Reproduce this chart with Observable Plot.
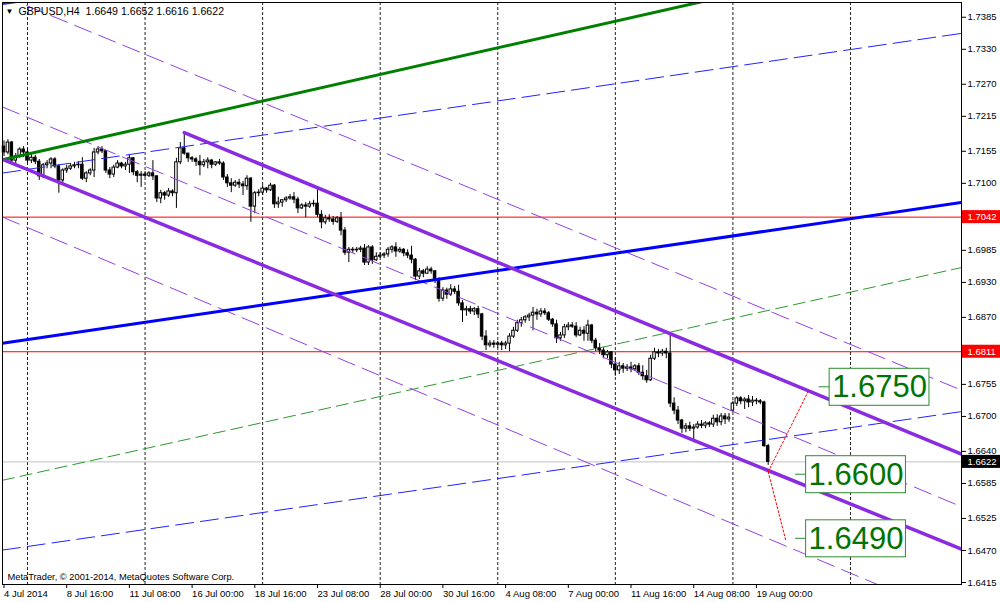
<!DOCTYPE html>
<html><head><meta charset="utf-8">
<script src="https://cdn.jsdelivr.net/npm/d3@7"></script>
<script src="https://cdn.jsdelivr.net/npm/@observablehq/plot@0.6"></script>
<style>
html,body{margin:0;padding:0;background:#fff;}
#chart{width:1000px;height:602px;overflow:hidden;}
svg{display:block}
</style></head><body><div id="chart"></div>
<script>
// ---- H4 bars, 4 Jul 2014 00:00 (index 0) .. 19 Aug 2014 12:00 (index 195) ----
const opens = [1.7163,1.7153,1.7170,1.7139,1.7146,1.7158,1.7153,1.7139,1.7144,1.7137,
1.7112,1.7131,1.7134,1.7141,1.7129,1.7105,1.7122,1.7125,1.7129,1.7131,
1.7132,1.7108,1.7117,1.7122,1.7153,1.7158,1.7155,1.7122,1.7115,1.7127,
1.7134,1.7129,1.7132,1.7143,1.7119,1.7113,1.7115,1.7113,1.7117,1.7112,
1.7074,1.7083,1.7079,1.7086,1.7083,1.7136,1.7160,1.7151,1.7143,1.7141,
1.7137,1.7131,1.7136,1.7139,1.7132,1.7136,1.7134,1.7110,1.7100,1.7096,
1.7101,1.7098,1.7095,1.7108,1.7060,1.7083,1.7084,1.7091,1.7088,1.7096,
1.7064,1.7067,1.7071,1.7074,1.7076,1.7072,1.7057,1.7062,1.7060,1.7064,
1.7065,1.7046,1.7033,1.7040,1.7038,1.7034,1.7040,1.7019,1.6981,1.6986,
1.6985,1.6986,1.6988,1.6964,1.6990,1.6968,1.6974,1.6976,1.6978,1.6986,
1.6990,1.6983,1.6986,1.6980,1.6976,1.6969,1.6940,1.6949,1.6945,1.6952,
1.6949,1.6933,1.6902,1.6916,1.6909,1.6918,1.6914,1.6894,1.6882,1.6884,
1.6880,1.6884,1.6875,1.6837,1.6822,1.6825,1.6823,1.6825,1.6822,1.6825,
1.6837,1.6847,1.6860,1.6865,1.6870,1.6873,1.6878,1.6875,1.6880,1.6877,
1.6866,1.6858,1.6834,1.6839,1.6853,1.6856,1.6854,1.6839,1.6847,1.6842,
1.6856,1.6830,1.6817,1.6813,1.6805,1.6810,1.6789,1.6779,1.6786,1.6782,
1.6784,1.6781,1.6786,1.6775,1.6769,1.6762,1.6799,1.6810,1.6808,1.6811,
1.6808,1.6722,1.6710,1.6693,1.6679,1.6683,1.6679,1.6681,1.6686,1.6684,
1.6688,1.6686,1.6696,1.6690,1.6700,1.6695,1.6710,1.6722,1.6731,1.6726,
1.6729,1.6724,1.6727,1.6726,1.6724,1.6649];
const highs = [1.7173,1.7175,1.7172,1.7151,1.7161,1.7163,1.7160,1.7151,1.7148,1.7141,
1.7134,1.7139,1.7144,1.7144,1.7132,1.7125,1.7131,1.7134,1.7136,1.7137,
1.7144,1.7120,1.7125,1.7160,1.7163,1.7163,1.7156,1.7127,1.7131,1.7139,
1.7136,1.7136,1.7148,1.7144,1.7122,1.7120,1.7120,1.7120,1.7139,1.7113,
1.7088,1.7086,1.7091,1.7089,1.7143,1.7170,1.7187,1.7151,1.7146,1.7144,
1.7148,1.7141,1.7144,1.7141,1.7137,1.7141,1.7137,1.7115,1.7108,1.7105,
1.7107,1.7103,1.7113,1.7110,1.7086,1.7089,1.7096,1.7093,1.7100,1.7098,
1.7076,1.7072,1.7077,1.7081,1.7084,1.7076,1.7065,1.7067,1.7069,1.7071,
1.7093,1.7053,1.7045,1.7046,1.7043,1.7043,1.7050,1.7024,1.6990,1.6990,
1.6990,1.6992,1.6995,1.6993,1.6993,1.6981,1.6981,1.6981,1.6990,1.6993,
1.6998,1.6990,1.6988,1.6986,1.6992,1.6971,1.6954,1.6952,1.6957,1.6956,
1.6950,1.6938,1.6921,1.6920,1.6926,1.6923,1.6925,1.6899,1.6889,1.6889,
1.6887,1.6889,1.6877,1.6847,1.6830,1.6830,1.6829,1.6829,1.6829,1.6842,
1.6853,1.6865,1.6870,1.6873,1.6877,1.6887,1.6884,1.6885,1.6885,1.6880,
1.6868,1.6865,1.6844,1.6858,1.6861,1.6861,1.6861,1.6853,1.6854,1.6865,
1.6858,1.6834,1.6825,1.6818,1.6813,1.6811,1.6801,1.6793,1.6791,1.6789,
1.6793,1.6789,1.6791,1.6787,1.6779,1.6805,1.6817,1.6815,1.6815,1.6817,
1.6844,1.6732,1.6717,1.6695,1.6688,1.6690,1.6686,1.6691,1.6693,1.6691,
1.6691,1.6702,1.6703,1.6705,1.6705,1.6705,1.6726,1.6734,1.6734,1.6732,
1.6736,1.6734,1.6731,1.6729,1.6726,1.6652];
const lows = [1.7146,1.7149,1.7134,1.7131,1.7143,1.7144,1.7134,1.7134,1.7132,1.7105,
1.7108,1.7125,1.7125,1.7125,1.7083,1.7100,1.7117,1.7122,1.7125,1.7125,
1.7105,1.7101,1.7113,1.7110,1.7149,1.7151,1.7117,1.7108,1.7110,1.7125,
1.7125,1.7122,1.7117,1.7113,1.7101,1.7093,1.7110,1.7110,1.7105,1.7067,
1.7065,1.7071,1.7076,1.7077,1.7057,1.7132,1.7148,1.7136,1.7136,1.7129,
1.7113,1.7127,1.7125,1.7125,1.7129,1.7131,1.7105,1.7093,1.7084,1.7093,
1.7091,1.7079,1.7088,1.7033,1.7048,1.7077,1.7079,1.7083,1.7086,1.7057,
1.7057,1.7059,1.7067,1.7071,1.7065,1.7048,1.7055,1.7041,1.7057,1.7059,
1.7041,1.7022,1.7029,1.7033,1.7028,1.7031,1.7010,1.6976,1.6964,1.6980,
1.6981,1.6981,1.6959,1.6959,1.6961,1.6966,1.6971,1.6971,1.6973,1.6980,
1.6973,1.6980,1.6974,1.6971,1.6962,1.6933,1.6935,1.6938,1.6944,1.6944,
1.6928,1.6896,1.6897,1.6901,1.6906,1.6909,1.6889,1.6861,1.6872,1.6875,
1.6873,1.6868,1.6830,1.6813,1.6818,1.6817,1.6817,1.6813,1.6815,1.6811,
1.6834,1.6844,1.6853,1.6860,1.6863,1.6847,1.6865,1.6870,1.6873,1.6863,
1.6853,1.6825,1.6829,1.6834,1.6847,1.6851,1.6835,1.6837,1.6829,1.6829,
1.6825,1.6811,1.6806,1.6799,1.6799,1.6782,1.6769,1.6772,1.6774,1.6777,
1.6775,1.6777,1.6770,1.6762,1.6757,1.6760,1.6796,1.6801,1.6803,1.6799,
1.6715,1.6703,1.6686,1.6671,1.6672,1.6674,1.6655,1.6678,1.6679,1.6679,
1.6681,1.6681,1.6683,1.6684,1.6686,1.6690,1.6707,1.6717,1.6720,1.6712,
1.6715,1.6717,1.6720,1.6720,1.6647,1.6616];
const closes = [1.7153,1.7170,1.7139,1.7146,1.7158,1.7153,1.7139,1.7144,1.7137,1.7112,
1.7131,1.7134,1.7141,1.7129,1.7105,1.7122,1.7125,1.7129,1.7131,1.7132,
1.7108,1.7117,1.7122,1.7153,1.7158,1.7155,1.7122,1.7115,1.7127,1.7134,
1.7129,1.7132,1.7143,1.7119,1.7113,1.7115,1.7113,1.7117,1.7112,1.7074,
1.7083,1.7079,1.7086,1.7083,1.7136,1.7160,1.7151,1.7143,1.7141,1.7137,
1.7131,1.7136,1.7139,1.7132,1.7136,1.7134,1.7110,1.7100,1.7096,1.7101,
1.7098,1.7095,1.7108,1.7060,1.7083,1.7084,1.7091,1.7088,1.7096,1.7064,
1.7067,1.7071,1.7074,1.7076,1.7072,1.7057,1.7062,1.7060,1.7064,1.7065,
1.7046,1.7033,1.7040,1.7038,1.7034,1.7040,1.7019,1.6981,1.6986,1.6985,
1.6986,1.6988,1.6964,1.6990,1.6968,1.6974,1.6976,1.6978,1.6986,1.6990,
1.6983,1.6986,1.6980,1.6976,1.6969,1.6940,1.6949,1.6945,1.6952,1.6949,
1.6933,1.6902,1.6916,1.6909,1.6918,1.6914,1.6894,1.6882,1.6884,1.6880,
1.6884,1.6875,1.6837,1.6822,1.6825,1.6823,1.6825,1.6822,1.6825,1.6837,
1.6847,1.6860,1.6865,1.6870,1.6873,1.6878,1.6875,1.6880,1.6877,1.6866,
1.6858,1.6834,1.6839,1.6853,1.6856,1.6854,1.6839,1.6847,1.6842,1.6856,
1.6830,1.6817,1.6813,1.6805,1.6810,1.6789,1.6779,1.6786,1.6782,1.6784,
1.6781,1.6786,1.6775,1.6769,1.6762,1.6799,1.6810,1.6808,1.6811,1.6808,
1.6722,1.6710,1.6693,1.6679,1.6683,1.6679,1.6681,1.6686,1.6684,1.6688,
1.6686,1.6696,1.6690,1.6700,1.6695,1.6698,1.6722,1.6731,1.6726,1.6729,
1.6724,1.6727,1.6726,1.6724,1.6649,1.6622];

// ---- axes ----
const xTickBars = [0,16,32,48,64,80,96,112,128,144,160,176,192];
const xTickLabels = ["4 Jul 2014","8 Jul 16:00","11 Jul 08:00","16 Jul 00:00","18 Jul 16:00","23 Jul 08:00","28 Jul 00:00","30 Jul 16:00","4 Aug 08:00","7 Aug 00:00","11 Aug 16:00","14 Aug 08:00","19 Aug 00:00"];
const gridBars = [6,36,66,96,126,156,186,216];
const yTicks = [1.7385,1.7330,1.7270,1.7215,1.7155,1.7100,1.6985,1.6930,1.6870,1.6755,1.6700,1.6640,1.6585,1.6525,1.6470,1.6415];

// ---- horizontal levels ----
const redLevels = [1.7042, 1.6811];
const bidPrice = 1.6622;

// ---- trend lines: [bar1, price1, bar2, price2] ----
const greenMain = [0, 1.7141, 175, 1.7407];
const greenDashed = [0, 1.6591, 244, 1.6955];
const blueMain = [0, 1.6826, 244, 1.7067];
const blueDashedUpper = [0, 1.7118, 244, 1.7357];
const blueDashedLower = [0, 1.6471, 244, 1.6708];
const blueDashedTop = [0, 1.7408, 244, 1.7647];
const purpleUpper = [46, 1.7187, 239, 1.6650];
const purpleLower = [0, 1.7140, 239, 1.6487];
const purpleDashedTop = [0, 1.7421, 244, 1.6746];
const purpleDashedMid = [0, 1.7230, 244, 1.6546];
const purpleDashedLow = [0, 1.7041, 244, 1.6352];

// ---- forecast (red dotted) ----
const forecastBars = [195, 205.3, 195, 199.5];
const forecastPrices = [1.6605, 1.6744, 1.6605, 1.6487];

// ---- price labels ----
const labelPrices = [1.6750, 1.6600, 1.6490];
const labelBars = [208, 202, 202];
const tagPrices = [1.7042, 1.6811, 1.6622];

const titleText = "GBPUSD,H4  1.6649 1.6652 1.6616 1.6622";
const copyrightText = "MetaTrader, \u00A9 2001-2014, MetaQuotes Software Corp.";

// ---------------------------------------------------------------
const X0 = -0.38, X1 = 244.33;
const candles = opens.map((o, i) => ({i, o, h: highs[i], l: lows[i], c: closes[i]}));
const bulls = candles.filter(d => d.c > d.o);
const bears = candles.filter(d => d.c <= d.o);

function ray(def, start) {
  const [b1, p1, b2, p2] = def;
  const s = (p2 - p1) / (b2 - b1);
  const xa = start ?? X0;
  return [{x: xa, y: p1 + s * (xa - b1)}, {x: X1, y: p1 + s * (X1 - b1)}];
}
const lineSpecs = [
  {def: blueDashedTop, stroke: "#2222ff", w: 2, dash: "18,7"},
  {def: blueDashedUpper, stroke: "#2222ff", w: 1, dash: "18,7"},
  {def: blueDashedLower, stroke: "#2222ff", w: 1, dash: "18,7"},
  {def: greenDashed, stroke: "#2e9a2e", w: 1, dash: "12,6"},
  {def: purpleDashedTop, stroke: "#9340e8", w: 1, dash: "18,8"},
  {def: purpleDashedMid, stroke: "#9340e8", w: 1, dash: "18,8"},
  {def: purpleDashedLow, stroke: "#9340e8", w: 1, dash: "18,8"},
  {def: greenMain, stroke: "#008000", w: 3},
  {def: blueMain, stroke: "#0000ff", w: 3},
  {def: purpleLower, stroke: "#8a2be2", w: 3.5},
  {def: purpleUpper, stroke: "#8a2be2", w: 3.5, start: purpleUpper[0]}
];
const forecast = [0, 2].map(k => [
  {x: forecastBars[k], y: forecastPrices[k]},
  {x: forecastBars[k + 1], y: forecastPrices[k + 1]}
]);

const FONT = "'Liberation Sans', Arial, 'DejaVu Sans', sans-serif";

const chart = Plot.plot({
  width: 1000, height: 602,
  marginLeft: 2, marginRight: 39, marginTop: 2, marginBottom: 18,
  style: {fontFamily: FONT, fontSize: "9.5px", background: "#fff", color: "#000"},
  x: {domain: [X0, X1]},
  y: {domain: [1.64116, 1.74103]},
  marks: [
    Plot.ruleX(gridBars, {stroke: "#222", strokeDasharray: "3,2", strokeWidth: 1, clip: true}),
    Plot.ruleY([bidPrice], {stroke: "#c0c0c0"}),
    Plot.ruleY(redLevels, {stroke: "#ff0000"}),
    Plot.ruleX(candles, {x: "i", y1: "l", y2: "h", stroke: "#000", strokeWidth: 1}),
    Plot.rect(bears, {x1: d => d.i - 0.32, x2: d => d.i + 0.32, y1: "o", y2: "c", fill: "#000", stroke: "#000", strokeWidth: 1}),
    Plot.rect(bulls, {x1: d => d.i - 0.32, x2: d => d.i + 0.32, y1: "o", y2: "c", fill: "#fff", stroke: "#000", strokeWidth: 1}),
    ...lineSpecs.map(s => Plot.line(ray(s.def, s.start), {x: "x", y: "y", stroke: s.stroke, strokeWidth: s.w, strokeDasharray: s.dash, clip: true})),
    ...forecast.map(f => Plot.line(f, {x: "x", y: "y", stroke: "#ff0000", strokeWidth: 1, strokeDasharray: "2,2", clip: true})),
    Plot.axisY({anchor: "right", ticks: yTicks, tickSize: 4, tickPadding: 2, tickFormat: d => d.toFixed(4), label: null}),
    Plot.axisX({anchor: "bottom", ticks: xTickBars, tickSize: 4, tickPadding: 2, textAnchor: "start", tickFormat: d => xTickLabels[xTickBars.indexOf(d)], label: null}),
    Plot.frame({stroke: "#000"}),
    Plot.text(["\u25BC"], {frameAnchor: "top-left", dx: 7, dy: 9, fontSize: 8, textAnchor: "middle", lineAnchor: "middle"}),
    Plot.text([titleText], {frameAnchor: "top-left", dx: 16, dy: 9, fontSize: 10.6, textAnchor: "start", lineAnchor: "middle"}),
    Plot.text([copyrightText], {frameAnchor: "bottom-left", dx: 5, dy: -7, fontSize: 9.3, textAnchor: "start", lineAnchor: "middle"}),
    Plot.text(labelPrices, {x: (d, i) => labelBars[i], y: d => d, text: d => d.toFixed(4), dx: 13, textAnchor: "start", lineAnchor: "middle", fontSize: 31, fill: "#007400"}),
    Plot.text(tagPrices, {y: d => d, text: d => d.toFixed(4), frameAnchor: "right", dx: 6, textAnchor: "start", lineAnchor: "middle", fill: "#fff", fontSize: 9.5})
  ]
});
document.getElementById("chart").append(chart);

// boxes behind labels (positions from the chart's own scales)
const NS = "http://www.w3.org/2000/svg";
const sx = chart.scale("x"), sy = chart.scale("y");
const svgBox = chart.getBoundingClientRect();
function el(tag, attrs) { const e = document.createElementNS(NS, tag); for (const k in attrs) e.setAttribute(k, attrs[k]); return e; }
const allTexts = Array.from(chart.querySelectorAll("text"));
const labelStrs = labelPrices.map(d => d.toFixed(4));
const tagStrs = tagPrices.map(d => d.toFixed(4));
const tagColors = ["#ff0000", "#ff0000", "#000000"];

allTexts.forEach(t => {
  const s = t.textContent.trim();
  const g = t.parentNode;
  const k = labelStrs.indexOf(s);
  if (k >= 0 && parseFloat(t.getAttribute("font-size") || g.getAttribute("font-size") || "0") > 20) {
    const r = t.getBoundingClientRect();
    const cy = sy.apply(labelPrices[k]);
    const left = r.left - svgBox.left - 3;
    g.parentNode.insertBefore(el("rect", {x: left, y: cy - 18.5, width: r.width + 5, height: 37, fill: "#fff", stroke: "#2e8b2e", "stroke-width": 1}), g);
    g.parentNode.insertBefore(el("line", {x1: sx.apply(labelBars[k]), x2: left, y1: cy, y2: cy, stroke: "#2e8b2e", "stroke-width": 1}), g);
    return;
  }
  const j = tagStrs.indexOf(s);
  if (j >= 0 && (t.getAttribute("fill") === "#fff" || g.getAttribute("fill") === "#fff")) {
    const cy = sy.apply(tagPrices[j]);
    g.parentNode.insertBefore(el("rect", {x: 962, y: cy - 6.5, width: 38, height: 13, fill: tagColors[j]}), g);
  }
});
</script></body></html>
